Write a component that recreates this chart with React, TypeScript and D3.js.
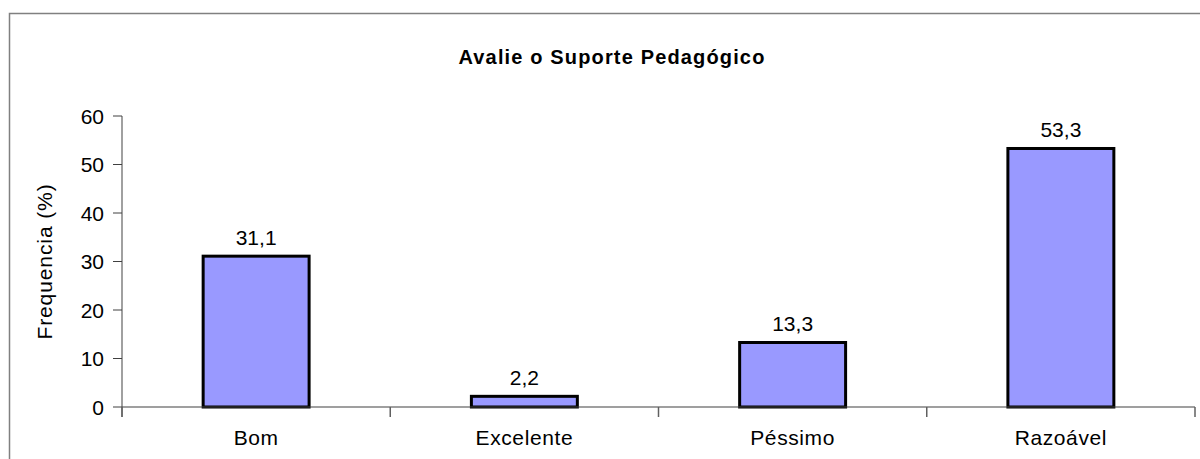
import React from "react";
import * as d3 from "d3";

const categories = ["Bom", "Excelente", "Péssimo", "Razoável"];
const values = [31.1, 2.2, 13.3, 53.3];
const yTicks = [0, 10, 20, 30, 40, 50, 60];
const title = "Avalie o Suporte Pedagógico";
const yTitle = "Frequencia (%)";

const W = 1200;
const H = 459;
const plotLeft = 122;
const plotRight = 1195;
const plotTop = 116;
const plotBottom = 407;
const FONT = "'Liberation Sans', Arial, sans-serif";

export default function App() {
  const x = d3
    .scaleBand<string>()
    .domain(categories)
    .range([plotLeft, plotRight])
    .paddingInner(0.605)
    .paddingOuter(0.3025);
  const y = d3.scaleLinear().domain([0, 60]).range([plotBottom, plotTop]);
  const step = (plotRight - plotLeft) / categories.length;
  const bounds = d3.range(categories.length + 1).map((i) => plotLeft + i * step);

  return (
    <svg
      width={W}
      height={H}
      style={{ position: "absolute", left: 0, top: 0, background: "#fff" }}
    >
      <rect x={0} y={0} width={W} height={H} fill="#fff" />
      <rect x={9.5} y={13.5} width={W + 20} height={H + 20} fill="none" stroke="#808080" strokeWidth={1.5} />
      <text
        x={612}
        y={64}
        textAnchor="middle"
        fontFamily={FONT}
        fontWeight="bold"
        fontSize={20}
        letterSpacing={1.15}
        fill="#000"
      >
        {title}
      </text>
      <text
        transform={`translate(52,${(plotTop + plotBottom) / 2}) rotate(-90)`}
        textAnchor="middle"
        fontFamily={FONT}
        fontSize={21}
        letterSpacing={0.9}
        fill="#000"
      >
        {yTitle}
      </text>
      {/* y axis */}
      <line x1={plotLeft} x2={plotLeft} y1={plotTop} y2={plotBottom + 10} stroke="#808080" strokeWidth={1.5} />
      {yTicks.map((t) => (
        <g key={t}>
          <line x1={plotLeft - 9} x2={plotLeft} y1={y(t)} y2={y(t)} stroke="#404040" strokeWidth={1} />
          <text
            x={104}
            y={y(t) + 7.5}
            textAnchor="end"
            fontFamily={FONT}
            fontSize={21}
            fill="#000"
          >
            {t}
          </text>
        </g>
      ))}
      {/* bars */}
      {categories.map((c, i) => (
        <g key={c}>
          <rect
            x={x(c)!}
            y={y(values[i])}
            width={x.bandwidth()}
            height={y(0) - y(values[i])}
            fill="#9999FF"
            stroke="#000"
            strokeWidth={3}
          />
          <text
            x={x(c)! + x.bandwidth() / 2}
            y={y(values[i]) - 11}
            textAnchor="middle"
            fontFamily={FONT}
            fontSize={21}
            fill="#000"
          >
            {String(values[i]).replace(".", ",")}
          </text>
          <text
            x={x(c)! + x.bandwidth() / 2}
            y={445}
            textAnchor="middle"
            fontFamily={FONT}
            fontSize={21}
            letterSpacing={0.6}
            fill="#000"
          >
            {c}
          </text>
        </g>
      ))}
      {/* x axis */}
      <line x1={plotLeft} x2={plotRight} y1={plotBottom} y2={plotBottom} stroke="#404040" strokeWidth={1.2} />
      {bounds.map((b, i) => (
        <line key={i} x1={b} x2={b} y1={plotBottom} y2={plotBottom + 10} stroke="#606060" strokeWidth={1.5} />
      ))}
    </svg>
  );
}
